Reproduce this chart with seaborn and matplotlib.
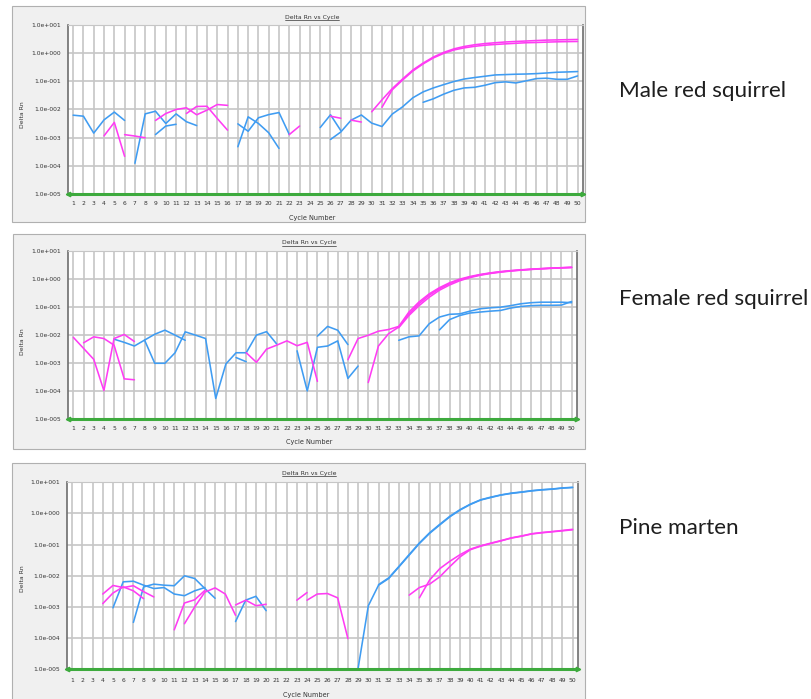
import matplotlib
matplotlib.use("Agg")
import matplotlib.pyplot as plt
from matplotlib.lines import Line2D
from matplotlib.patches import Rectangle
from matplotlib.ticker import NullLocator
import pandas as pd
import seaborn as sns

W, H = 811, 699
BLUE = "#3F9CF2"
PINK = "#FF3CF4"
GREEN = "#3DAA3D"
GRID = "#C6C6C6"
TEXT = "#333333"

CYCLES = list(range(1, 51))
Y_TICKS = [1e1, 1e0, 1e-1, 1e-2, 1e-3, 1e-4, 1e-5]
Y_TICK_LABELS = ["1.0e+001", "1.0e+000", "1.0e-001", "1.0e-002",
                 "1.0e-003", "1.0e-004", "1.0e-005"]
PANEL_TITLE = "Delta Rn vs Cycle"
X_LABEL = "Cycle Number"
Y_LABEL = "Delta Rn"
SAMPLE_NAMES = ["Male red squirrel", "Female red squirrel", "Pine marten"]

# Each trace: (first cycle, Delta Rn per consecutive cycle)
MALE_BLUE = [
    (1, [6.3e-3, 5.8e-3, 1.46e-3, 4.3e-3, 8.1e-3, 4.1e-3]),
    (7, [1.25e-4, 7.0e-3, 8.7e-3, 3.2e-3, 7.0e-3, 3.7e-3, 2.7e-3]),
    (9, [1.3e-3, 2.6e-3, 3.0e-3]),
    (17, [3.1e-3, 1.7e-3, 5.1e-3, 6.6e-3, 7.8e-3, 1.3e-3]),
    (17, [4.8e-4, 5.5e-3, 3.2e-3, 1.5e-3, 4.2e-4]),
    (25, [2.3e-3, 6.5e-3, 1.8e-3]),
    (26, [8.7e-4, 1.6e-3, 4.2e-3, 6.4e-3, 3.3e-3, 2.5e-3, 6.9e-3, 1.24e-2,
          2.6e-2, 4.2e-2, 5.8e-2, 7.6e-2, 9.8e-2, 0.12, 0.135, 0.15, 0.167,
          0.172, 0.177, 0.18, 0.186, 0.196, 0.208, 0.213, 0.22]),
    (35, [1.8e-2, 2.4e-2, 3.5e-2, 4.8e-2, 5.8e-2, 6.1e-2, 7.2e-2, 8.9e-2,
          9.5e-2, 8.7e-2, 0.103, 0.124, 0.128, 0.117, 0.117, 0.154]),
]
MALE_PINK = [
    (4, [1.17e-3, 3.5e-3, 2.2e-4]),
    (6, [1.29e-3, 1.15e-3, 1.0e-3]),
    (9, [4.1e-3, 7.2e-3, 1.0e-2, 1.15e-2, 6.5e-3, 9.5e-3, 1.5e-2, 1.4e-2]),
    (12, [7.2e-3, 1.28e-2, 1.3e-2, 4.8e-3, 1.86e-3]),
    (22, [1.3e-3, 2.6e-3]),
    (26, [5.8e-3, 4.9e-3]),
    (28, [4.2e-3, 3.6e-3]),
    (30, [8.3e-3, 2.2e-2, 5.5e-2, 0.12, 0.25, 0.44, 0.72, 1.05, 1.4, 1.7,
          1.95, 2.15, 2.3, 2.45, 2.55, 2.65, 2.75, 2.85, 2.9, 2.95, 3.0]),
    (31, [1.2e-2, 5.0e-2, 0.11, 0.23, 0.41, 0.67, 0.97, 1.28, 1.52, 1.72,
          1.88, 2.0, 2.1, 2.2, 2.3, 2.35, 2.42, 2.48, 2.52, 2.55]),
]

FEMALE_BLUE = [
    (5, [7.0e-3, 5.4e-3, 4.0e-3, 6.5e-3, 1.05e-2, 1.47e-2, 9.8e-3, 6.4e-3]),
    (8, [6.5e-3, 9.7e-4, 9.7e-4, 2.3e-3, 1.28e-2, 9.8e-3, 7.4e-3, 5.4e-5,
         9.2e-4, 2.3e-3, 2.3e-3, 9.8e-3, 1.3e-2, 4.7e-3]),
    (17, [1.55e-3, 1.1e-3]),
    (23, [2.7e-3, 1.0e-4, 3.6e-3, 4.0e-3, 6.1e-3, 2.8e-4, 7.7e-4]),
    (25, [9.0e-3, 2.0e-2, 1.46e-2, 4.5e-3]),
    (33, [6.4e-3, 8.5e-3, 9.2e-3, 2.5e-2, 4.3e-2, 5.4e-2, 5.6e-2, 7.0e-2,
          8.5e-2, 9.2e-2, 9.7e-2, 0.11, 0.128, 0.14, 0.146, 0.146, 0.146, 0.14]),
    (37, [1.5e-2, 3.5e-2, 4.9e-2, 6.0e-2, 6.5e-2, 7.0e-2, 7.4e-2, 9.0e-2,
          0.103, 0.11, 0.113, 0.113, 0.115, 0.155]),
]
FEMALE_PINK = [
    (1, [8.1e-3, 3.3e-3, 1.34e-3, 1.03e-4, 7.4e-3, 1.03e-2, 5.8e-3]),
    (2, [5.2e-3, 8.5e-3, 7.4e-3, 4.3e-3, 2.7e-4, 2.5e-4]),
    (18, [2.3e-3, 1.05e-3, 3.1e-3, 4.3e-3, 6.1e-3, 4.1e-3, 5.4e-3, 2.2e-4]),
    (28, [1.3e-3, 7.4e-3, 9.7e-3, 1.35e-2, 1.55e-2, 2.0e-2, 0.065, 0.15,
          0.29, 0.48, 0.72, 0.97, 1.2, 1.42, 1.62, 1.8, 1.95, 2.08, 2.2,
          2.3, 2.4, 2.48, 2.56]),
    (30, [2.0e-4, 4.0e-3, 1.1e-2, 1.9e-2, 0.056, 0.13, 0.26, 0.44, 0.67,
          0.92, 1.15, 1.38, 1.58, 1.76, 1.92, 2.05, 2.17, 2.28, 2.38, 2.46,
          2.54]),
    (33, [1.8e-2, 0.049, 0.11, 0.22, 0.39, 0.6, 0.85, 1.1, 1.33, 1.54,
          1.72, 1.88, 2.02, 2.14, 2.25, 2.35, 2.44, 2.52]),
]

MARTEN_BLUE = [
    (5, [9.4e-4, 6.4e-3, 6.7e-3, 5.0e-3, 3.9e-3, 4.2e-3, 2.6e-3, 2.3e-3,
         3.3e-3, 4.2e-3]),
    (7, [3.2e-4, 4.4e-3, 5.4e-3, 5.0e-3, 4.8e-3, 1.0e-2, 8.2e-3, 3.9e-3,
         1.9e-3]),
    (17, [3.4e-4, 1.66e-3, 2.2e-3, 7.6e-4]),
    (29, [1.07e-5, 1.09e-3, 5.0e-3, 8.2e-3, 1.94e-2, 4.6e-2, 0.109, 0.23,
          0.43, 0.79, 1.3, 1.95, 2.7, 3.25, 3.9, 4.4, 4.8, 5.3, 5.7, 6.0,
          6.5, 6.8]),
    (31, [5.2e-3, 8.6e-3, 2.0e-2, 4.8e-2, 0.113, 0.24, 0.45, 0.82, 1.34,
          2.0, 2.75, 3.35, 3.95, 4.5, 4.9, 5.4, 5.8, 6.1, 6.6, 6.9]),
]
MARTEN_PINK = [
    (4, [2.6e-3, 4.9e-3, 4.2e-3, 4.8e-3, 3.1e-3, 2.1e-3]),
    (4, [1.28e-3, 2.8e-3, 4.4e-3, 3.3e-3, 1.85e-3]),
    (11, [1.85e-4, 1.34e-3, 1.7e-3, 3.4e-3]),
    (12, [2.9e-4, 1.0e-3, 3.0e-3, 4.1e-3, 2.6e-3, 5.4e-4]),
    (17, [1.16e-3, 1.65e-3, 1.1e-3, 1.22e-3]),
    (23, [1.65e-3, 2.9e-3]),
    (24, [1.65e-3, 2.6e-3, 2.7e-3, 1.96e-3, 9.7e-5]),
    (34, [2.4e-3, 4.2e-3, 5.4e-3, 9.3e-3, 2.0e-2, 4.1e-2, 6.9e-2, 8.9e-2,
          0.109, 0.132, 0.162, 0.186, 0.22, 0.24, 0.258, 0.277, 0.3]),
    (35, [1.97e-3, 7.3e-3, 1.7e-2, 2.96e-2, 4.8e-2, 7.2e-2, 0.092, 0.112,
          0.135, 0.165, 0.19, 0.224, 0.245, 0.263, 0.285, 0.31]),
]

# Pixel layout of each panel: plot box, outer grey frame, label anchors
PANELS = [
    dict(blue=MALE_BLUE, pink=MALE_PINK, name=SAMPLE_NAMES[0],
         plot=(68, 24.7, 582.7, 194.3), frame=(12, 6, 585, 222),
         title=(312, 17), xlab=(312, 218), ylab=(23, 115), xpad=8.0,
         name_xy=(619, 97)),
    dict(blue=FEMALE_BLUE, pink=FEMALE_PINK, name=SAMPLE_NAMES[1],
         plot=(68.3, 250.7, 576.7, 419), frame=(13, 234, 585, 449),
         title=(309, 243), xlab=(309, 442), ylab=(23, 342), xpad=7.7,
         name_xy=(619, 305)),
    dict(blue=MARTEN_BLUE, pink=MARTEN_PINK, name=SAMPLE_NAMES[2],
         plot=(67, 482.3, 577.7, 669.3), frame=(12, 463, 585, 705),
         title=(309, 473), xlab=(306, 695), ylab=(22, 579), xpad=9.0,
         name_xy=(619, 534)),
]


def traces_frame(segments, colour):
    rows = []
    for k, (start, values) in enumerate(segments):
        for i, v in enumerate(values):
            rows.append({"cycle": start + i, "delta_rn": v,
                         "run": f"{colour}-{k}", "colour": colour})
    return pd.DataFrame(rows)


def fx(x):
    return x / W


def fy(y):
    return 1 - y / H


sns.set_style("white")
plt.rcParams["font.family"] = ["DejaVu Sans"]

fig = plt.figure(figsize=(W / 100, H / 100), dpi=100)
fig.patch.set_facecolor("white")

underline_texts = []
for p in PANELS:
    x0, y0, x1, y1 = p["frame"]
    fig.add_artist(Rectangle((fx(x0), fy(y1)), fx(x1 - x0), (y1 - y0) / H,
                             transform=fig.transFigure, facecolor="#F0F0F0",
                             edgecolor="#B0B0B0", linewidth=0.8, zorder=0))

    l, t, r, b = p["plot"]
    ax = fig.add_axes([fx(l), fy(b), fx(r - l), (b - t) / H])
    ax.set_facecolor("white")
    ax.set_yscale("log")

    df = pd.concat([traces_frame(p["blue"], "blue"),
                    traces_frame(p["pink"], "pink")], ignore_index=True)
    sns.lineplot(data=df, x="cycle", y="delta_rn", hue="colour", units="run",
                 estimator=None, sort=False, legend=False, linewidth=1.15,
                 palette={"blue": BLUE, "pink": PINK}, ax=ax, zorder=3)

    ax.set_xlim(0.5, 50.5)
    ax.set_ylim(1e-5, 1e1)
    ax.set_xticks(CYCLES)
    ax.set_xticklabels([str(c) for c in CYCLES])
    ax.set_yticks(Y_TICKS)
    ax.set_yticklabels(Y_TICK_LABELS)
    ax.yaxis.set_minor_locator(NullLocator())
    ax.grid(True, color=GRID, linewidth=1.2)
    ax.set_axisbelow(True)
    ax.tick_params(axis="both", length=0, labelsize=4.3, colors=TEXT)
    ax.tick_params(axis="x", pad=p["xpad"] - 3)
    ax.tick_params(axis="y", pad=5)
    ax.set_xlabel("")
    ax.set_ylabel("")
    for side in ("left", "right"):
        ax.spines[side].set_color("#6E6E6E")
        ax.spines[side].set_linewidth(1.2)
    ax.spines["top"].set_color(GRID)
    ax.spines["bottom"].set_visible(False)

    # threshold baseline with end arrows
    ax.axhline(1e-5, color=GREEN, linewidth=2.2, zorder=4, clip_on=False)
    ax.plot([0.5], [1e-5], marker="<", ms=3.2, color=GREEN, clip_on=False,
            zorder=5)
    ax.plot([50.5], [1e-5], marker=">", ms=3.2, color=GREEN, clip_on=False,
            zorder=5)

    tx, ty = p["title"]
    ttl = fig.text(fx(tx), fy(ty), PANEL_TITLE, ha="center", va="center",
                   fontsize=4.4, color=TEXT)
    underline_texts.append(ttl)
    xx, xy = p["xlab"]
    fig.text(fx(xx), fy(xy), X_LABEL, ha="center", va="center",
             fontsize=4.7, color=TEXT)
    yx, yy = p["ylab"]
    fig.text(fx(yx), fy(yy), Y_LABEL, ha="center", va="center",
             rotation=90, fontsize=4.4, color=TEXT)

    nx, ny = p["name_xy"]
    fig.text(fx(nx), fy(ny), p["name"], ha="left", va="baseline",
             fontsize=16.2, family=["Lato", "DejaVu Sans"], color="#1E1E1E")

renderer = fig.canvas.get_renderer()
for ttl in underline_texts:
    bb = ttl.get_window_extent(renderer)
    fig.add_artist(Line2D([bb.x0 / W, bb.x1 / W],
                          [(bb.y0 - 0.3) / H, (bb.y0 - 0.3) / H],
                          transform=fig.transFigure, color=TEXT,
                          linewidth=0.5))

fig.savefig("out.png", dpi=100, facecolor="white")
